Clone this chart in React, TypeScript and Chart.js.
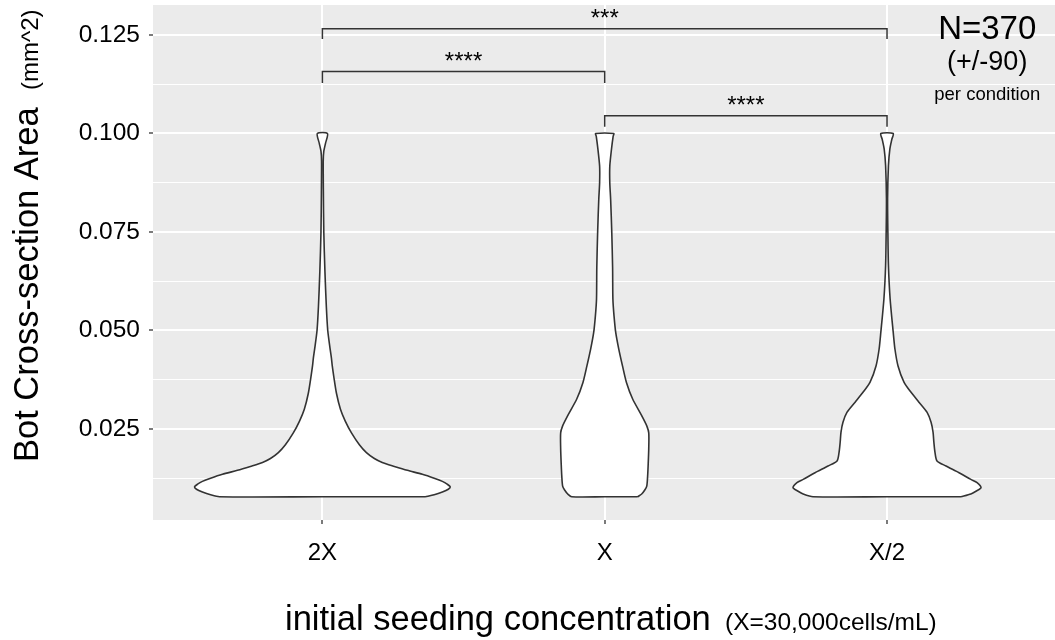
import React, { useEffect, useRef } from 'react';
import { Chart, registerables } from 'chart.js';

Chart.register(...registerables);

// ---------- data ----------
const categories = ['2X', 'X', 'X/2'];

// violin outlines: value levels (mm^2) and half-widths (in category units)
const violin2X_y = [0.0078, 0.0083, 0.009, 0.0097, 0.0103, 0.011, 0.0117, 0.0125, 0.0135, 0.0145, 0.0155, 0.0165, 0.0175, 0.019, 0.021, 0.024, 0.027, 0.03, 0.034, 0.038, 0.041, 0.043, 0.045, 0.05, 0.056, 0.065, 0.075, 0.085, 0.093, 0.0955, 0.0975, 0.1];
const violin2X_w = [0.365, 0.396, 0.425, 0.446, 0.453, 0.442, 0.425, 0.396, 0.354, 0.301, 0.255, 0.212, 0.184, 0.156, 0.131, 0.103, 0.081, 0.064, 0.05, 0.041, 0.035, 0.032, 0.028, 0.019, 0.014, 0.009, 0.005, 0.0035, 0.003, 0.005, 0.011, 0.018];

const violinX_y = [0.0078, 0.0085, 0.0095, 0.0105, 0.013, 0.016, 0.02, 0.024, 0.0258, 0.0284, 0.0326, 0.0368, 0.041, 0.0452, 0.0495, 0.0537, 0.058, 0.066, 0.075, 0.0833, 0.0875, 0.0917, 0.096, 0.0993, 0.1];
const violinX_w = [0.117, 0.131, 0.142, 0.149, 0.152, 0.154, 0.156, 0.156, 0.149, 0.131, 0.099, 0.077, 0.063, 0.05, 0.039, 0.033, 0.029, 0.028, 0.025, 0.021, 0.018, 0.018, 0.024, 0.03, 0.032];

const violinX2_y = [0.0078, 0.0085, 0.0092, 0.0101, 0.0114, 0.0122, 0.0139, 0.0156, 0.0169, 0.019, 0.0216, 0.0242, 0.0267, 0.0292, 0.0318, 0.0343, 0.0369, 0.041, 0.0453, 0.0495, 0.058, 0.0665, 0.075, 0.0834, 0.0918, 0.096, 0.0985, 0.1];
const violinX2_w = [0.262, 0.297, 0.315, 0.333, 0.319, 0.297, 0.255, 0.209, 0.177, 0.17, 0.166, 0.163, 0.156, 0.142, 0.113, 0.085, 0.06, 0.039, 0.028, 0.022, 0.011, 0.005, 0.003, 0.002, 0.005, 0.01, 0.017, 0.022];

// significance brackets
const bracketFrom = [1, 1, 2];
const bracketTo = [3, 2, 3];
const bracketTop = [0.1266, 0.1157, 0.1045];
const bracketTip = [0.124, 0.1128, 0.1017];
const bracketLabels = ['***', '****', '****'];

// axis ticks
const yMajorTicks = [0.025, 0.05, 0.075, 0.1, 0.125];
const yMinorTicks = [0.0125, 0.0375, 0.0625, 0.0875, 0.1125];
const xTicks = [1, 2, 3];

// annotation text (right side)
const noteTexts = ['N=370', '(+/-90)', 'per condition'];
const noteY = [0.1239, 0.1161, 0.1085];
const noteSizes = [33, 27, 18.5];
const noteX = 3.355;

const FONT = '"Liberation Sans", Arial, Helvetica, sans-serif';

function violinPoints(center: number, ys: number[], ws: number[]) {
  const pts: { x: number; y: number }[] = [];
  for (let i = 0; i < ys.length; i++) pts.push({ x: center + ws[i], y: ys[i] });
  for (let i = ys.length - 1; i >= 0; i--) pts.push({ x: center - ws[i], y: ys[i] });
  pts.push({ x: center, y: ys[0] });
  pts.push({ x: center + ws[0], y: ys[0] });
  return pts;
}

const majorSet = new Set(yMajorTicks);

const bgPlugin = {
  id: 'panelBg',
  beforeDraw(chart: any) {
    const { ctx, chartArea: a, width, height } = chart;
    ctx.save();
    ctx.fillStyle = '#ffffff';
    ctx.fillRect(0, 0, width, height);
    ctx.fillStyle = '#EBEBEB';
    ctx.fillRect(a.left, a.top, a.right - a.left, a.bottom - a.top);
    ctx.restore();
  },
};

const textPlugin = {
  id: 'texts',
  afterDatasetsDraw(chart: any) {
    const { ctx } = chart;
    const xs = chart.scales.x;
    const ys = chart.scales.y;
    ctx.save();
    ctx.fillStyle = '#000';
    ctx.textAlign = 'center';
    ctx.textBaseline = 'alphabetic';
    ctx.font = `24px ${FONT}`;
    for (let i = 0; i < bracketLabels.length; i++) {
      const px = xs.getPixelForValue((bracketFrom[i] + bracketTo[i]) / 2);
      const py = ys.getPixelForValue(bracketTop[i]);
      ctx.fillText(bracketLabels[i], px, py - 3);
    }
    for (let i = 0; i < noteTexts.length; i++) {
      ctx.font = `${noteSizes[i]}px ${FONT}`;
      ctx.fillText(noteTexts[i], xs.getPixelForValue(noteX), ys.getPixelForValue(noteY[i]));
    }
    ctx.restore();
  },
  afterDraw(chart: any) {
    const { ctx } = chart;
    ctx.save();
    ctx.fillStyle = '#000';
    ctx.textBaseline = 'alphabetic';
    ctx.textAlign = 'left';
    // x-axis title
    ctx.font = `34.5px ${FONT}`;
    ctx.fillText('initial seeding concentration', 285, 630);
    ctx.font = `24.5px ${FONT}`;
    ctx.fillText('(X=30,000cells/mL)', 725, 630);
    // y-axis title
    ctx.translate(38, 462);
    ctx.rotate(-Math.PI / 2);
    ctx.font = `34.5px ${FONT}`;
    ctx.fillText('Bot Cross-section Area', 0, 0);
    ctx.font = `24px ${FONT}`;
    ctx.fillText('(mm^2)', 372, 0);
    ctx.restore();
  },
};

export default function App() {
  const canvasRef = useRef<HTMLCanvasElement | null>(null);

  useEffect(() => {
    if (!canvasRef.current) return;
    const violinStyle = {
      type: 'line' as const,
      showLine: true,
      pointRadius: 0,
      borderColor: '#333333',
      borderWidth: 1.6,
      backgroundColor: '#ffffff',
      fill: 'shape' as any,
      tension: 0.25,
      borderJoinStyle: 'round' as const,
    };
    const datasets: any[] = [
      { ...violinStyle, label: '2X', data: violinPoints(1, violin2X_y, violin2X_w) },
      { ...violinStyle, label: 'X', data: violinPoints(2, violinX_y, violinX_w) },
      { ...violinStyle, label: 'X/2', data: violinPoints(3, violinX2_y, violinX2_w) },
    ];
    for (let i = 0; i < bracketFrom.length; i++) {
      datasets.push({
        type: 'line',
        label: 'sig' + i,
        data: [
          { x: bracketFrom[i], y: bracketTip[i] },
          { x: bracketFrom[i], y: bracketTop[i] },
          { x: bracketTo[i], y: bracketTop[i] },
          { x: bracketTo[i], y: bracketTip[i] },
        ],
        borderColor: '#333333',
        borderWidth: 1.5,
        pointRadius: 0,
        fill: false,
        tension: 0,
      });
    }

    const chart = new Chart(canvasRef.current, {
      type: 'line',
      data: { datasets },
      plugins: [bgPlugin, textPlugin],
      options: {
        animation: false,
        responsive: true,
        maintainAspectRatio: false,
        layout: { padding: { top: 5, left: 0, right: 0, bottom: 0 } },
        plugins: { legend: { display: false }, tooltip: { enabled: false } },
        scales: {
          x: {
            type: 'linear',
            min: 0.4,
            max: 3.595,
            afterFit: (s: any) => { s.height = 120; s.paddingLeft = 0; s.paddingRight = 0; },
            afterBuildTicks: (s: any) => { s.ticks = xTicks.map((v) => ({ value: v })); },
            border: { display: false },
            grid: {
              color: '#ffffff',
              lineWidth: 2,
              tickColor: '#333333',
              tickWidth: 1.3,
              tickLength: 4,
            },
            ticks: {
              autoSkip: false,
              maxRotation: 0,
              padding: 15,
              color: '#000',
              font: { family: FONT, size: 24 },
              callback: (v: any) => categories[Math.round(Number(v)) - 1] ?? '',
            },
          },
          y: {
            type: 'linear',
            min: 0.0019,
            max: 0.1326,
            afterFit: (s: any) => { s.width = 153; s.paddingTop = 0; s.paddingBottom = 0; },
            afterBuildTicks: (s: any) => {
              s.ticks = [...yMinorTicks, ...yMajorTicks].sort((a, b) => a - b).map((v) => ({ value: v }));
            },
            border: { display: false },
            grid: {
              color: '#ffffff',
              lineWidth: (c: any) => (majorSet.has(c.tick?.value) ? 2 : 1),
              tickColor: (c: any) => (majorSet.has(c.tick?.value) ? '#333333' : 'rgba(0,0,0,0)'),
              tickWidth: 1.3,
              tickLength: 4,
            },
            ticks: {
              autoSkip: false,
              padding: 9,
              color: '#000',
              font: { family: FONT, size: 24.5 },
              callback: (v: any) => (majorSet.has(Number(v)) ? Number(v).toFixed(3) : ''),
            },
          },
        },
      },
    });
    return () => chart.destroy();
  }, []);

  return (
    <div style={{ position: 'fixed', left: 0, top: 0, width: 1055, height: 640, background: '#fff' }}>
      <canvas ref={canvasRef} />
    </div>
  );
}
